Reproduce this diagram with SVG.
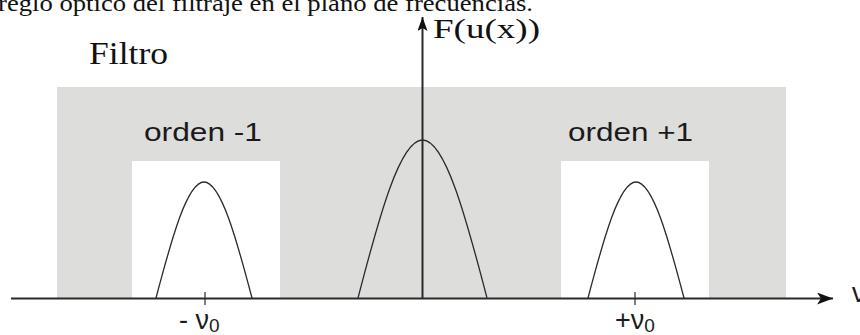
<svg xmlns="http://www.w3.org/2000/svg" width="860" height="335" viewBox="0 0 860 335">
<style>
.serif{font-family:"Liberation Serif","Times New Roman",serif;fill:#111}
.sans{font-family:"Liberation Sans",Arial,sans-serif;fill:#1a1a1a}
.axis{stroke:#2a2a2a;stroke-width:2;fill:none}
.lobe{stroke:#2a2a2a;stroke-width:1.3;fill:none}
.tick{stroke:#2a2a2a;stroke-width:1.2}
</style>
<defs>
<marker id="ah" viewBox="0 0 16 12" refX="16" refY="6" markerWidth="16" markerHeight="12" markerUnits="userSpaceOnUse" orient="auto">
<path d="M0,0 L16,6 L0,12 L4,6 Z" fill="#111"/>
</marker>
<marker id="av" viewBox="0 0 14 10" refX="14" refY="5" markerWidth="14" markerHeight="10" markerUnits="userSpaceOnUse" orient="auto">
<path d="M0,0 L14,5 L0,10 L3,5 Z" fill="#111"/>
</marker>
</defs>
<rect width="860" height="335" fill="#ffffff"/>
<text class="serif" x="-2" y="10.5" font-size="24" textLength="535" lengthAdjust="spacingAndGlyphs">reglo óptico del filtraje en el plano de frecuencias.</text>
<g id="filtro">
<rect x="57" y="87" width="729" height="211" fill="#dddddc"/>
<rect x="132" y="161" width="148" height="137" fill="#ffffff"/>
<rect x="561" y="161" width="148" height="137" fill="#ffffff"/>
<text class="serif" x="89" y="64" font-size="32" textLength="79" lengthAdjust="spacingAndGlyphs">Filtro</text>
</g>
<g id="orden-1">
<text class="sans" x="144" y="141" font-size="25" textLength="118" lengthAdjust="spacingAndGlyphs">orden -1</text>
<path class="lobe" d="M156,298 C171.65,238.6 187.2,182 204,182 C220.8,182 236.35,238.6 252,298"/>
</g>
<g id="orden0">
<path class="lobe" d="M358,298 C379,217.1 399.9,140 422.5,140 C445.1,140 466,217.1 487,298"/>
</g>
<g id="orden+1">
<text class="sans" x="568" y="141" font-size="25" textLength="125" lengthAdjust="spacingAndGlyphs">orden +1</text>
<path class="lobe" d="M588,298 C603.65,238.6 619.2,182 636,182 C652.8,182 668.35,238.6 684,298"/>
</g>
<g id="connectors">
<line class="axis" x1="11" y1="298.5" x2="833" y2="298.5" marker-end="url(#ah)"/>
<line class="axis" x1="422.5" y1="298" x2="422.5" y2="17" marker-end="url(#av)"/>
<line class="tick" x1="205" y1="292" x2="205" y2="305"/>
<line class="tick" x1="635" y1="292" x2="635" y2="305"/>
</g>
<g id="labels">
<text class="serif" x="433" y="38" font-size="27" textLength="107" lengthAdjust="spacingAndGlyphs">F(u(x))</text>
<text class="sans" x="179" y="329" font-size="27">- ν<tspan font-size="19" dy="3">0</tspan></text>
<text class="sans" x="615" y="329" font-size="27">+ν<tspan font-size="19" dy="3">0</tspan></text>
<text class="sans" x="852" y="302" font-size="27">ν</text>
</g>
</svg>
